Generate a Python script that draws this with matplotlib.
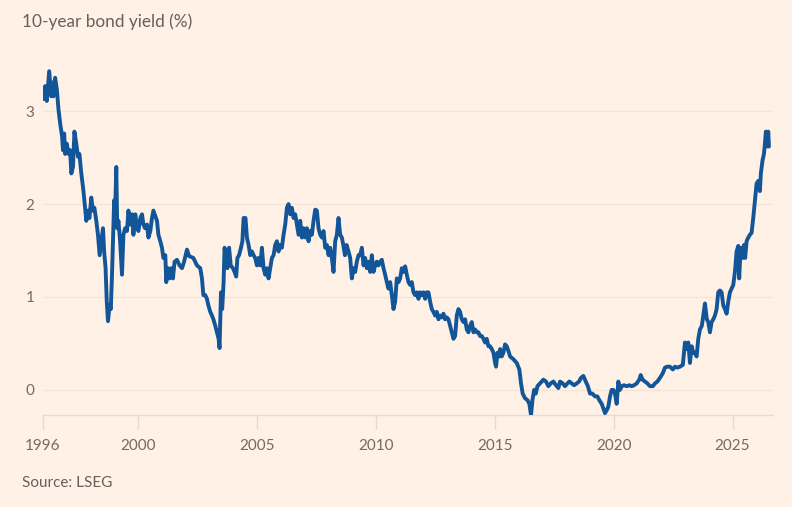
import matplotlib
matplotlib.use("Agg")
import matplotlib.pyplot as plt

# ---- data (decimal year, 10-year yield %) ----
years = [
    1996.00, 1996.07, 1996.11, 1996.18, 1996.28, 1996.37, 1996.42, 1996.46, 1996.53, 1996.60,
    1996.67, 1996.74, 1996.82, 1996.86, 1996.91, 1996.95, 1997.02, 1997.09, 1997.16, 1997.21,
    1997.28, 1997.34, 1997.42, 1997.49, 1997.55, 1997.63, 1997.72, 1997.79, 1997.84, 1997.91,
    1997.97, 1998.05, 1998.12, 1998.18, 1998.26, 1998.33, 1998.40, 1998.47, 1998.54, 1998.59,
    1998.65, 1998.70, 1998.75, 1998.82, 1998.87, 1998.92, 1998.97, 1999.01, 1999.05, 1999.10,
    1999.14, 1999.19, 1999.26, 1999.34, 1999.40, 1999.47, 1999.55, 1999.61, 1999.68, 1999.76,
    1999.82, 1999.90, 1999.97, 2000.03, 2000.11, 2000.18, 2000.24, 2000.31, 2000.39, 2000.45,
    2000.53, 2000.60, 2000.66, 2000.74, 2000.81, 2000.87, 2000.95, 2001.02, 2001.08, 2001.16,
    2001.20, 2001.27, 2001.34, 2001.41, 2001.48, 2001.55, 2001.65, 2001.76, 2001.86, 2001.95,
    2002.07, 2002.16, 2002.34, 2002.49, 2002.63, 2002.70, 2002.76, 2002.84, 2002.91, 2002.97,
    2003.05, 2003.12, 2003.18, 2003.26, 2003.33, 2003.40, 2003.44, 2003.50, 2003.55, 2003.61,
    2003.65, 2003.72, 2003.77, 2003.84, 2003.91, 2004.00, 2004.07, 2004.14, 2004.19, 2004.26,
    2004.34, 2004.40, 2004.45, 2004.53, 2004.59, 2004.66, 2004.73, 2004.80, 2004.87, 2004.94,
    2005.01, 2005.08, 2005.15, 2005.22, 2005.29, 2005.36, 2005.43, 2005.50, 2005.57, 2005.64,
    2005.71, 2005.78, 2005.85, 2005.92, 2005.99, 2006.06, 2006.13, 2006.20, 2006.27, 2006.34,
    2006.41, 2006.48, 2006.55, 2006.62, 2006.69, 2006.76, 2006.83, 2006.90, 2006.97, 2007.04,
    2007.11, 2007.18, 2007.25, 2007.32, 2007.39, 2007.46, 2007.53, 2007.60, 2007.67, 2007.74,
    2007.81, 2007.88, 2007.95, 2008.02, 2008.09, 2008.16, 2008.23, 2008.30, 2008.37, 2008.44,
    2008.51, 2008.58, 2008.64, 2008.71, 2008.78, 2008.86, 2008.93, 2009.00, 2009.07, 2009.14,
    2009.21, 2009.28, 2009.35, 2009.42, 2009.49, 2009.56, 2009.63, 2009.70, 2009.77, 2009.84,
    2009.91, 2009.98, 2010.05, 2010.12, 2010.19, 2010.26, 2010.33, 2010.40, 2010.47, 2010.54,
    2010.61, 2010.68, 2010.75, 2010.82, 2010.89, 2010.96, 2011.03, 2011.10, 2011.17, 2011.24,
    2011.31, 2011.38, 2011.45, 2011.52, 2011.59, 2011.66, 2011.73, 2011.80, 2011.87, 2011.94,
    2012.01, 2012.08, 2012.15, 2012.22, 2012.29, 2012.36, 2012.43, 2012.50, 2012.57, 2012.64,
    2012.71, 2012.78, 2012.85, 2012.92, 2012.99, 2013.06, 2013.13, 2013.20, 2013.27, 2013.34,
    2013.41, 2013.48, 2013.55, 2013.62, 2013.69, 2013.76, 2013.83, 2013.90, 2013.97, 2014.04,
    2014.11, 2014.18, 2014.25, 2014.32, 2014.39, 2014.46, 2014.53, 2014.60, 2014.67, 2014.74,
    2014.81, 2014.88, 2014.95, 2015.02, 2015.06, 2015.12, 2015.19, 2015.23, 2015.30, 2015.37,
    2015.44, 2015.51, 2015.58, 2015.65, 2015.79, 2015.93, 2016.04, 2016.11, 2016.18, 2016.28,
    2016.38, 2016.46, 2016.53, 2016.59, 2016.66, 2016.73, 2016.80, 2016.91, 2016.98, 2017.05,
    2017.16, 2017.26, 2017.36, 2017.47, 2017.58, 2017.68, 2017.75, 2017.86, 2017.96, 2018.06,
    2018.14, 2018.24, 2018.34, 2018.45, 2018.55, 2018.63, 2018.73, 2018.83, 2018.92, 2019.01,
    2019.11, 2019.22, 2019.32, 2019.40, 2019.50, 2019.57, 2019.64, 2019.71, 2019.78, 2019.85,
    2019.92, 2019.99, 2020.06, 2020.13, 2020.20, 2020.27, 2020.34, 2020.44, 2020.55, 2020.66,
    2020.76, 2020.86, 2020.97, 2021.08, 2021.14, 2021.22, 2021.32, 2021.42, 2021.53, 2021.65,
    2021.74, 2021.84, 2021.95, 2022.07, 2022.16, 2022.26, 2022.37, 2022.49, 2022.58, 2022.68,
    2022.79, 2022.91, 2023.00, 2023.07, 2023.14, 2023.21, 2023.28, 2023.35, 2023.42, 2023.49,
    2023.56, 2023.63, 2023.71, 2023.77, 2023.84, 2023.92, 2023.98, 2024.05, 2024.12, 2024.19,
    2024.26, 2024.33, 2024.40, 2024.47, 2024.54, 2024.61, 2024.68, 2024.75, 2024.82, 2024.89,
    2024.96, 2025.03, 2025.10, 2025.17, 2025.24, 2025.28, 2025.34, 2025.42, 2025.48, 2025.53,
    2025.59, 2025.66, 2025.73, 2025.80, 2025.87, 2025.94, 2026.01, 2026.08, 2026.15, 2026.19,
    2026.26, 2026.32, 2026.36, 2026.40, 2026.46, 2026.50, 2026.53,
]
yields = [
    3.14, 3.13, 3.27, 3.11, 3.43, 3.16, 3.31, 3.16, 3.36, 3.24,
    3.02, 2.87, 2.73, 2.58, 2.76, 2.54, 2.65, 2.54, 2.58, 2.33,
    2.40, 2.78, 2.65, 2.51, 2.54, 2.33, 2.14, 1.96, 1.82, 1.93,
    1.85, 2.07, 1.93, 1.96, 1.82, 1.67, 1.45, 1.60, 1.74, 1.49,
    1.31, 0.95, 0.74, 0.91, 0.87, 1.24, 1.67, 2.04, 1.89, 2.40,
    1.74, 1.82, 1.60, 1.24, 1.67, 1.74, 1.71, 1.93, 1.78, 1.89,
    1.67, 1.89, 1.74, 1.71, 1.85, 1.89, 1.78, 1.74, 1.78, 1.64,
    1.71, 1.85, 1.93, 1.87, 1.82, 1.67, 1.60, 1.53, 1.42, 1.45,
    1.16, 1.31, 1.20, 1.31, 1.20, 1.38, 1.40, 1.34, 1.31, 1.38,
    1.51, 1.44, 1.42, 1.34, 1.31, 1.20, 1.02, 1.02, 0.98, 0.91,
    0.84, 0.80, 0.76, 0.69, 0.62, 0.55, 0.45, 1.05, 0.87, 1.16,
    1.53, 1.45, 1.31, 1.53, 1.34, 1.31, 1.27, 1.22, 1.42, 1.45,
    1.53, 1.60, 1.85, 1.85, 1.64, 1.56, 1.45, 1.49, 1.45, 1.42,
    1.34, 1.42, 1.34, 1.53, 1.31, 1.24, 1.31, 1.20, 1.31, 1.42,
    1.45, 1.56, 1.60, 1.49, 1.56, 1.53, 1.67, 1.78, 1.96, 2.00,
    1.89, 1.96, 1.85, 1.89, 1.78, 1.67, 1.82, 1.64, 1.74, 1.64,
    1.74, 1.60, 1.71, 1.67, 1.82, 1.94, 1.93, 1.74, 1.67, 1.64,
    1.71, 1.53, 1.56, 1.45, 1.53, 1.42, 1.27, 1.60, 1.67, 1.85,
    1.67, 1.64, 1.56, 1.45, 1.56, 1.49, 1.42, 1.20, 1.31, 1.27,
    1.38, 1.45, 1.45, 1.53, 1.34, 1.42, 1.31, 1.38, 1.27, 1.45,
    1.27, 1.34, 1.38, 1.34, 1.38, 1.40, 1.31, 1.24, 1.16, 1.09,
    1.16, 1.02, 0.87, 0.95, 1.20, 1.16, 1.20, 1.31, 1.27, 1.33,
    1.24, 1.16, 1.13, 1.16, 1.05, 1.02, 1.05, 0.98, 1.05, 1.02,
    1.05, 0.98, 1.05, 1.05, 0.95, 0.87, 0.84, 0.80, 0.84, 0.76,
    0.80, 0.78, 0.82, 0.76, 0.78, 0.76, 0.69, 0.62, 0.55, 0.58,
    0.80, 0.87, 0.84, 0.76, 0.73, 0.76, 0.65, 0.62, 0.69, 0.73,
    0.62, 0.65, 0.62, 0.62, 0.58, 0.58, 0.55, 0.51, 0.55, 0.47,
    0.47, 0.44, 0.40, 0.29, 0.25, 0.40, 0.36, 0.44, 0.36, 0.40,
    0.49, 0.47, 0.42, 0.36, 0.33, 0.29, 0.22, 0.07, -0.04, -0.09,
    -0.11, -0.15, -0.27, -0.11, 0.00, -0.04, 0.04, 0.07, 0.09, 0.11,
    0.09, 0.04, 0.07, 0.09, 0.05, 0.02, 0.09, 0.07, 0.04, 0.07,
    0.09, 0.07, 0.05, 0.07, 0.09, 0.13, 0.15, 0.09, 0.04, -0.04,
    -0.04, -0.07, -0.07, -0.11, -0.15, -0.20, -0.25, -0.22, -0.18, -0.07,
    0.00, 0.00, -0.04, -0.15, 0.09, 0.00, 0.04, 0.05, 0.04, 0.05,
    0.04, 0.05, 0.07, 0.11, 0.16, 0.11, 0.09, 0.07, 0.04, 0.04,
    0.07, 0.09, 0.13, 0.18, 0.24, 0.25, 0.25, 0.22, 0.25, 0.24,
    0.25, 0.27, 0.51, 0.44, 0.51, 0.29, 0.47, 0.40, 0.40, 0.36,
    0.55, 0.65, 0.69, 0.80, 0.93, 0.76, 0.73, 0.62, 0.73, 0.76,
    0.80, 0.87, 1.05, 1.07, 1.05, 0.91, 0.87, 0.82, 0.95, 1.05,
    1.09, 1.13, 1.27, 1.49, 1.55, 1.20, 1.53, 1.42, 1.56, 1.42,
    1.60, 1.64, 1.67, 1.69, 1.85, 2.04, 2.22, 2.25, 2.14, 2.33,
    2.47, 2.54, 2.65, 2.78, 2.62, 2.78, 2.62,
]
y_ticks = [0, 1, 2, 3]
x_ticks = [1996, 2000, 2005, 2010, 2015, 2020, 2025]
x_tick_labels = ["1996", "2000", "2005", "2010", "2015", "2020", "2025"]

BG = "#FFF1E5"
GRID = "#F5E5D8"
BASE = "#E8D9CC"
TXT = "#726A64"
LINE = "#135599"

plt.rcParams["font.family"] = ["Lato", "DejaVu Sans"]

fig = plt.figure(figsize=(7.92, 5.07), dpi=100, facecolor=BG)
ax = fig.add_axes([0.0537, 0.1815, 0.9223, 0.70])
ax.set_facecolor(BG)

ax.plot(years, yields, color=LINE, lw=2.8, solid_joinstyle="round", solid_capstyle="round", zorder=3)

ax.set_xlim(1996, 2026.7)
ax.set_ylim(-0.27, 3.55)

ax.set_yticks(y_ticks)
ax.set_yticklabels([str(t) for t in y_ticks])
ax.set_xticks(x_ticks)
ax.set_xticklabels(x_tick_labels)

for t in y_ticks:
    ax.axhline(t, color=GRID, lw=1.0, zorder=1)
ax.axhline(-0.27, color=BASE, lw=1.0, zorder=2, clip_on=False)

for s in ax.spines.values():
    s.set_visible(False)

ax.tick_params(axis="y", length=0, pad=6, labelsize=11, labelcolor=TXT)
ax.tick_params(axis="x", length=10, width=1.0, color=BASE, pad=7, labelsize=11, labelcolor=TXT)

fig.text(22 / 792, 1 - 22 / 507, "10-year bond yield (%)", ha="left", va="center",
         fontsize=12.4, color="#66605C")
fig.text(22 / 792, 1 - 483 / 507, "Source: LSEG", ha="left", va="center",
         fontsize=11, color="#66605C")

fig.savefig("out.png", dpi=100, facecolor=BG)
